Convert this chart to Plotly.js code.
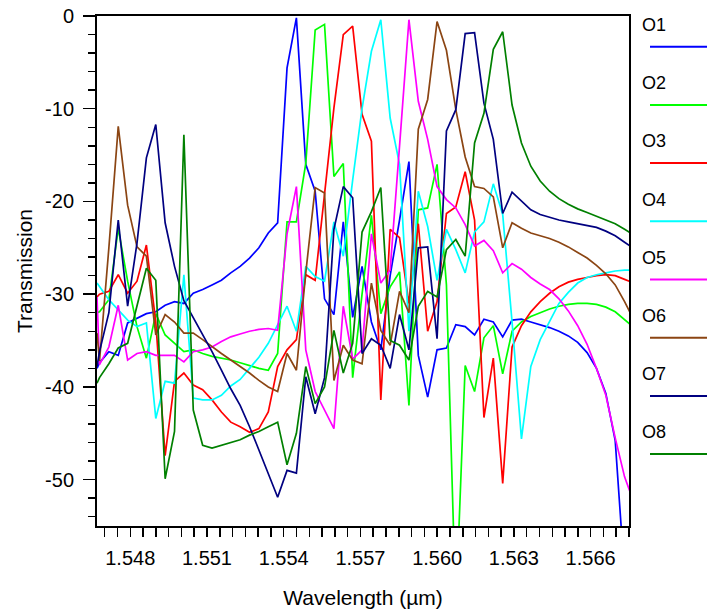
<!DOCTYPE html>
<html>
<head>
<meta charset="utf-8">
<script src="https://cdn.plot.ly/plotly-3.0.1.min.js"></script>
<style>html,body{margin:0;padding:0;background:#fff;}#chart{width:707px;height:611px;}</style>
</head>
<body>
<div id="chart"></div>
<script>
// Wavelength samples (µm)
const wavelength = [1.5467,
  1.546798,1.547164,1.547531,1.547898,1.548264,1.548631,1.548998,1.549364,1.549731,1.550097,
  1.550464,1.550831,1.551197,1.551564,1.551930,1.552297,1.552664,1.553030,1.553397,1.553763,
  1.554130,1.554496,1.554863,1.555230,1.555596,1.555963,1.556329,1.556696,1.557063,1.557429,
  1.557796,1.558162,1.558529,1.558896,1.559262,1.559629,1.559995,1.560362,1.560729,1.561095,
  1.561462,1.561828,1.562195,1.562562,1.562928,1.563295,1.563661,1.564028,1.564395,1.564761,
  1.565128,1.565494,1.565861,1.566228,1.566594,1.566961,1.567327,1.567694];

const O1 = [-38.0,
  -37.4,-36.2,-36.6,-33.1,-32.6,-32.1,-31.9,-31.2,-30.8,-31.0,
  -29.9,-29.5,-29.0,-28.5,-27.7,-27.0,-26.1,-25.0,-23.4,-22.3,
  -5.6,-0.2,-16.0,-18.9,-30.5,-32.2,-22.2,-32.5,-27,-33,
  -36,-28,-22,-15.7,-36.6,-41.1,-36.0,-35.8,-33.3,-33.5,
  -34.4,-32.7,-33.0,-34.6,-32.8,-32.7,-33.0,-33.3,-33.6,-34.0,
  -34.5,-35.2,-36.3,-38.0,-40.7,-45.8,-59,-75];
const O2 = [-32.0,
  -31.9,-30.6,-22.9,-28.6,-33.5,-36.9,-32.1,-34.4,-35.3,-36.2,
  -36.0,-36.4,-36.7,-36.9,-37.1,-37.4,-37.7,-38.0,-38.2,-36.4,
  -22.2,-22.2,-15.9,-1.5,-0.9,-17.3,-15.9,-39,-30,-21.5,
  -32.1,-29.2,-27.6,-42.0,-20.9,-20.7,-16.0,-29,-64,-37.7,
  -40.5,-34.7,-33.4,-38.6,-34.0,-33.0,-32.4,-32.0,-31.6,-31.3,
  -31.1,-31.0,-31.0,-31.1,-31.4,-31.9,-32.8,-33.6];
const O3 = [-30.3,
  -30.0,-29.7,-27.9,-29.9,-28.6,-24.7,-33,-47.4,-39.4,-38.5,
  -39.8,-40.3,-41.4,-42.7,-43.8,-44.3,-44.9,-44.5,-42.7,-37.8,
  -36.0,-34.9,-27.9,-28.5,-19,-9.9,-2.0,-1.1,-10.6,-13.5,
  -41.4,-23.0,-23.9,-31,-22.4,-34,-30.8,-21.3,-20.6,-16.8,
  -22.0,-43.3,-36.9,-50.4,-35.7,-33.4,-31.9,-30.8,-29.9,-29.2,
  -28.7,-28.4,-28.2,-28.0,-27.9,-28.0,-28.4,-28.8];
const O4 = [-28.8,
  -29.2,-30.6,-31.7,-32.8,-33.5,-33.1,-43.4,-39.4,-39.6,-27.9,
  -41.2,-41.4,-41.4,-40.9,-39.9,-39.2,-38.0,-36.8,-35.3,-33.3,
  -31.3,-34.0,-27.0,-28.1,-28.6,-22.2,-25.9,-17.7,-10,-3.8,
  -0.4,-11,-16,-34,-18.9,-22.7,-28.5,-23,-25.2,-27.7,
  -23.3,-22.2,-18.1,-21.4,-33,-45.6,-37.8,-34.9,-33.0,-31.0,
  -29.8,-28.8,-28.2,-27.9,-27.7,-27.5,-27.4,-27.4];
const O5 = [-30.3,
  -37.6,-35.7,-31.2,-37.1,-36.4,-36.2,-36.6,-36.6,-36.6,-37.3,
  -36.2,-36.0,-35.7,-35.1,-34.6,-34.3,-34.0,-33.8,-33.7,-33.9,
  -23.5,-18.4,-36,-40.5,-42.5,-44.5,-31.3,-37,-36,-23.5,
  -28.8,-27.4,-14,-0.4,-9.2,-13.3,-18.4,-19.8,-20.7,-22.5,
  -24.8,-24.2,-25.3,-27.7,-26.7,-27.3,-28.2,-28.9,-29.5,-30.5,
  -31.8,-33.4,-35.4,-38.0,-40.9,-45.5,-49.7,-52.5];
const O6 = [-34.2,
  -37.2,-25,-11.9,-20.4,-24.9,-25.9,-34.4,-32.2,-33.0,-34.2,
  -34.2,-34.9,-35.7,-36.4,-37.1,-37.8,-38.5,-39.3,-40.0,-40.5,
  -36.4,-38.2,-27.7,-18.5,-19.1,-39.3,-35.5,-37.1,-37.5,-28.8,
  -33.9,-35.5,-29.7,-32,-12.2,-9.0,-0.6,-3.7,-10.1,-15.2,
  -18.4,-18.6,-19.5,-25.0,-22.3,-22.9,-23.4,-23.7,-24.0,-24.4,
  -24.9,-25.5,-26.1,-26.9,-27.8,-29.0,-30.8,-32.8];
const O7 = [-37.8,
  -36.2,-32.0,-22.0,-31.3,-24.5,-15.3,-11.7,-22.3,-27.0,-30.7,
  -32.5,-34.3,-36.2,-38.2,-40.2,-42.0,-44.3,-46.8,-49.4,-51.9,
  -49.0,-49.3,-38.9,-42.9,-39,-23,-18.4,-19.6,-36.4,-34.8,
  -35.5,-38.0,-32.2,-36.0,-25.0,-24.9,-34.8,-12.4,-10.1,-1.9,
  -1.8,-9.4,-13.3,-21.3,-19.0,-20.0,-20.9,-21.4,-21.7,-22.0,
  -22.2,-22.4,-22.6,-22.8,-23.2,-23.7,-24.4,-25.1];
const O8 = [-39.6,
  -39.0,-37.5,-35.8,-35.3,-31.3,-27.2,-28.5,-49.9,-44.8,-12.8,
  -42.5,-46.3,-46.6,-46.3,-46.0,-45.7,-45.2,-44.8,-44.3,-43.8,
  -48.4,-45.0,-37.8,-41.8,-40.0,-33.9,-38.5,-35.3,-23.3,-21.1,
  -18.5,-35,-35.5,-37.1,-31.3,-29.7,-30.3,-25.2,-24.1,-25.9,
  -13.7,-10.5,-3.6,-1.7,-9.6,-13.7,-16.2,-17.8,-18.9,-19.7,
  -20.3,-20.8,-21.2,-21.6,-22.0,-22.4,-23.0,-23.6];

const seriesNames = ['O1','O2','O3','O4','O5','O6','O7','O8'];
const seriesColors = ['#0000FF','#00FF00','#FF0000','#00FFFF','#FF00FF','#8B4513','#000080','#008000'];
const seriesValues = [O1,O2,O3,O4,O5,O6,O7,O8];

const xTickVals = [1.548,1.551,1.554,1.557,1.560,1.563,1.566];
const xTickText = ['1.548','1.551','1.554','1.557','1.560','1.563','1.566'];
const yTickVals = [0,-10,-20,-30,-40,-50];
const yTickText = ['0','-10','-20','-30','-40','-50'];

const FONT = 'Liberation Sans, Arial, sans-serif';

const traces = seriesValues.map((vals, i) => ({
  x: wavelength, y: vals, type: 'scatter', mode: 'lines',
  name: seriesNames[i], line: {color: seriesColors[i], width: 1.7},
  showlegend: false, hoverinfo: 'skip'
}));

// custom legend: label above a short line, outside right of plot
const plotL = 97, plotR = 629, plotT = 16, plotB = 526;
const pw = plotR - plotL, ph = plotB - plotT;
const annotations = [], shapes = [];
seriesNames.forEach((n, i) => {
  const ty = 25 + 58.2 * i, ly = 46.7 + 58.2 * i;
  annotations.push({xref:'paper', yref:'paper', x:(640-plotL)/pw, y:(plotB-ty)/ph,
    xanchor:'left', yanchor:'middle', text:n, showarrow:false,
    font:{family:FONT, size:18, color:'#000'}});
  shapes.push({type:'line', xref:'paper', yref:'paper',
    x0:(650-plotL)/pw, x1:(707-plotL)/pw, y0:(plotB-ly)/ph, y1:(plotB-ly)/ph,
    line:{color:seriesColors[i], width:2}});
});

const layout = {
  width: 707, height: 611,
  margin: {l: plotL, r: 707 - plotR, t: plotT, b: 611 - plotB, pad: 0},
  paper_bgcolor: '#fff', plot_bgcolor: '#fff',
  showlegend: false,
  font: {family: FONT, color: '#000'},
  xaxis: {
    range: [1.5467, 1.5675], tickmode: 'array', tickvals: xTickVals, ticktext: xTickText,
    ticks: 'outside', ticklen: 9, tickwidth: 1.5, tickcolor: '#000',
    ticklabelstandoff: 4,
    showline: true, mirror: true, linecolor: '#000', linewidth: 2,
    showgrid: false, zeroline: false,
    tickfont: {family: FONT, size: 20, color: '#000'},
    minor: {tickmode: 'linear', tick0: 1.548, dtick: 0.0005, ticks: 'outside', ticklen: 9, tickwidth: 1.5, tickcolor: '#000', showgrid: false},
    title: {text: 'Wavelength (µm)', font: {family: FONT, size: 21, color: '#000'}, standoff: 22},
    automargin: false
  },
  yaxis: {
    range: [-55, 0], tickmode: 'array', tickvals: yTickVals, ticktext: yTickText,
    ticks: 'outside', ticklen: 12, tickwidth: 1.5, tickcolor: '#000',
    ticklabelstandoff: 5,
    showline: true, mirror: true, linecolor: '#000', linewidth: 2,
    showgrid: false, zeroline: false,
    tickfont: {family: FONT, size: 20, color: '#000'},
    minor: {tickmode: 'linear', tick0: 0, dtick: 2, ticks: 'outside', ticklen: 7, tickwidth: 1.5, tickcolor: '#000', showgrid: false},
    title: {text: 'Transmission', font: {family: FONT, size: 21, color: '#000'}, standoff: 7},
    automargin: false
  },
  annotations: annotations,
  shapes: shapes
};

Plotly.newPlot('chart', traces, layout, {staticPlot: true, displayModeBar: false});
</script>
</body>
</html>
